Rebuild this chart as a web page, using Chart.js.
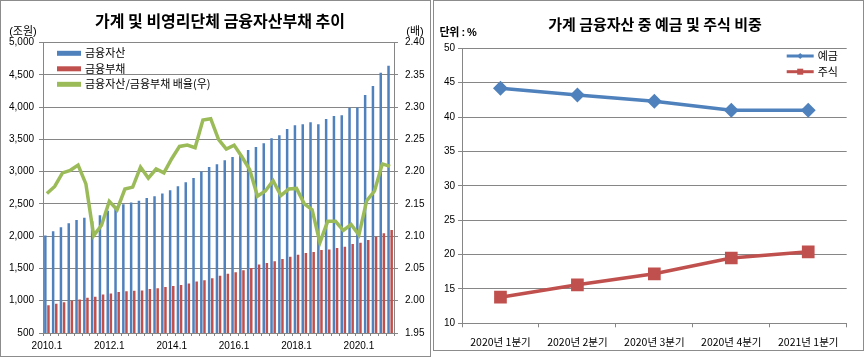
<!DOCTYPE html>
<html>
<head>
<meta charset="utf-8">
<script src="https://cdn.jsdelivr.net/npm/chart.js@4.4.0/dist/chart.umd.min.js"></script>
<style>
  body { margin: 0; background: #fff; width: 865px; height: 358px; position: relative; overflow: hidden;
         font-family: "Liberation Sans", "Noto Sans CJK KR", sans-serif; color: #000; }
  .panel { position: absolute; border: 1px solid #8c8c8c; box-sizing: border-box; }
  .panel canvas { position: absolute; left: 0; top: 0; }
  .txt { position: absolute; white-space: nowrap; transform: translate(-50%, -50%); }
  .title { font-family: "Noto Sans CJK KR", sans-serif; font-weight: bold; }
</style>
</head>
<body>
<div class="panel" style="left:0;top:0;width:431px;height:357px;">
  <canvas id="chart1" width="429" height="355"></canvas>
</div>
<div class="panel" style="left:433px;top:0;width:431px;height:351px;">
  <canvas id="chart2" width="429" height="349"></canvas>
</div>

<div class="txt title" style="left:220px;top:20px;font-size:16px;">가계 및 비영리단체 금융자산부채 추이</div>
<div class="txt" style="left:23px;top:30px;font-size:11px;">(조원)</div>
<div class="txt" style="left:415px;top:30px;font-size:11px;">(배)</div>

<div class="txt title" style="left:655px;top:23px;font-size:15px;">가계 금융자산 중 예금 및 주식 비중</div>
<div class="txt" style="left:458px;top:31px;font-size:11px;font-weight:bold;letter-spacing:-0.5px;">단위 : %</div>

<script>
// 왼쪽 차트 데이터 (분기별, 조원 / 배)
const quarters = ['2010.1', '2010.2', '2010.3', '2010.4', '2011.1', '2011.2', '2011.3', '2011.4',
  '2012.1', '2012.2', '2012.3', '2012.4', '2013.1', '2013.2', '2013.3', '2013.4',
  '2014.1', '2014.2', '2014.3', '2014.4', '2015.1', '2015.2', '2015.3', '2015.4',
  '2016.1', '2016.2', '2016.3', '2016.4', '2017.1', '2017.2', '2017.3', '2017.4',
  '2018.1', '2018.2', '2018.3', '2018.4', '2019.1', '2019.2', '2019.3', '2019.4',
  '2020.1', '2020.2', '2020.3', '2020.4', '2021.1'];
const assets = [2010, 2075, 2140, 2200, 2250, 2285, 2230, 2325,
  2395, 2460, 2495, 2520, 2550, 2590, 2620, 2660,
  2710, 2775, 2835, 2900, 3000, 3070, 3115, 3175,
  3225, 3265, 3335, 3380, 3440, 3515, 3565, 3660,
  3720, 3735, 3765, 3735, 3815, 3860, 3875, 3990,
  3995, 4185, 4325, 4530, 4640];
const debts = [930, 955, 975, 1000, 1020, 1045, 1060, 1095,
  1110, 1135, 1145, 1155, 1160, 1180, 1195, 1212,
  1228, 1245, 1268, 1298, 1318, 1350, 1385, 1418,
  1442, 1472, 1505, 1560, 1584, 1610, 1645, 1682,
  1711, 1738, 1756, 1785, 1792, 1815, 1837, 1880,
  1898, 1940, 1992, 2045, 2095];
const ratio = [2.166, 2.177, 2.198, 2.202, 2.210, 2.181, 2.101, 2.117,
  2.154, 2.141, 2.173, 2.176, 2.207, 2.190, 2.204, 2.198,
  2.220, 2.239, 2.241, 2.237, 2.280, 2.282, 2.250, 2.235,
  2.241, 2.223, 2.203, 2.162, 2.170, 2.186, 2.163, 2.173,
  2.174, 2.150, 2.141, 2.090, 2.123, 2.123, 2.109, 2.118,
  2.102, 2.155, 2.170, 2.212, 2.208];
const leftAxis = [500, 5000, 500];     // min, max, step
const rightAxis = [1.95, 2.40, 0.05];

// 오른쪽 차트 데이터 (%)
const periods = ['2020년 1분기', '2020년 2분기', '2020년 3분기', '2020년 4분기', '2021년 1분기'];
const deposits = [44.2, 43.2, 42.3, 41.0, 41.0];
const stocks = [13.8, 15.6, 17.2, 19.5, 20.4];
const pctAxis = [10, 50, 5];

const GRID = '#868686';
Chart.defaults.font.family = '"Liberation Sans", "Noto Sans CJK KR", sans-serif';
Chart.defaults.font.size = 10;
Chart.defaults.color = '#000';

// 범례를 플롯 안에 그리기
const insideLegend = {
  id: 'insideLegend',
  afterDraw(chart, args, o) {
    const ctx = chart.ctx;
    ctx.save();
    ctx.font = '11px "Noto Sans CJK KR", sans-serif';
    ctx.textBaseline = 'middle';
    chart.data.datasets.forEach((ds, i) => {
      const y = o.y + i * o.gap;
      const col = ds.borderColor || ds.backgroundColor;
      ctx.strokeStyle = col;
      ctx.lineWidth = o.lineWidth;
      ctx.beginPath();
      ctx.moveTo(o.x, y);
      ctx.lineTo(o.x + o.w, y);
      ctx.stroke();
      const mx = o.x + o.w / 2;
      ctx.fillStyle = col;
      if (ds.pointStyle === 'rectRot') {
        ctx.beginPath();
        ctx.moveTo(mx - 3, y); ctx.lineTo(mx, y - 3); ctx.lineTo(mx + 3, y); ctx.lineTo(mx, y + 3);
        ctx.closePath(); ctx.fill();
      } else if (ds.pointStyle === 'rect') {
        ctx.fillRect(mx - 3, y - 3, 6, 6);
      }
      ctx.fillStyle = '#000';
      ctx.fillText(ds.label, o.x + o.w + 4, y);
    });
    ctx.restore();
  }
};

new Chart(document.getElementById('chart1'), {
  type: 'bar',
  data: {
    labels: quarters,
    datasets: [
      { label: '금융자산', data: assets, backgroundColor: '#4F81BD', order: 1,
        categoryPercentage: 0.8, barPercentage: 0.8 },
      { label: '금융부채', data: debts, backgroundColor: '#C0504D', order: 1,
        categoryPercentage: 0.8, barPercentage: 0.8 },
      { type: 'line', label: '금융자산/금융부채 배율(우)', data: ratio, yAxisID: 'y1', order: 0,
        borderColor: '#9BBB59', borderWidth: 3.5, pointRadius: 0, tension: 0 }
    ]
  },
  options: {
    responsive: false,
    animation: false,
    events: [],
    layout: { padding: { top: 41.5, left: 0, right: 0, bottom: 0 } },
    plugins: {
      legend: { display: false },
      tooltip: { enabled: false },
      insideLegend: { x: 56, y: 52.3, gap: 15.5, w: 24, lineWidth: 5 }
    },
    scales: {
      x: {
        offset: true,
        grid: { drawOnChartArea: false, tickLength: 3, color: GRID },
        border: { color: GRID },
        ticks: { autoSkip: false, maxRotation: 0, padding: 4,
          callback: (v, i) => i % 8 === 0 ? quarters[i] : '' },
        afterFit: s => { s.height = 23; }
      },
      y: {
        min: leftAxis[0], max: leftAxis[1],
        ticks: { stepSize: leftAxis[2], padding: 5, callback: v => v.toLocaleString('en-US') },
        grid: { color: GRID, tickLength: 4 },
        border: { color: GRID },
        afterFit: s => { s.width = 42; }
      },
      y1: {
        position: 'right',
        min: rightAxis[0], max: rightAxis[1],
        ticks: { stepSize: rightAxis[2], padding: 7, callback: v => v.toFixed(2) },
        grid: { drawOnChartArea: false, tickLength: 4, color: GRID },
        border: { color: GRID },
        afterFit: s => { s.width = 36; }
      }
    }
  },
  plugins: [insideLegend]
});

new Chart(document.getElementById('chart2'), {
  type: 'line',
  data: {
    labels: periods,
    datasets: [
      { label: '예금', data: deposits, borderColor: '#4F81BD', backgroundColor: '#4F81BD',
        borderWidth: 3.5, pointStyle: 'rectRot', pointRadius: 5, tension: 0 },
      { label: '주식', data: stocks, borderColor: '#C0504D', backgroundColor: '#C0504D',
        borderWidth: 3.5, pointStyle: 'rect', pointRadius: 6.5, tension: 0 }
    ]
  },
  options: {
    responsive: false,
    animation: false,
    events: [],
    layout: { padding: { top: 47.3, left: 0, right: 16.3, bottom: 0 } },
    plugins: {
      legend: { display: false },
      tooltip: { enabled: false },
      insideLegend: { x: 352.7, y: 55, gap: 15.7, w: 27, lineWidth: 3 }
    },
    scales: {
      x: {
        offset: true,
        grid: { offset: true, drawOnChartArea: false, tickLength: 4, color: GRID },
        border: { color: GRID },
        ticks: { padding: 8, font: { size: 10.5, family: '"Noto Sans CJK KR", sans-serif' } },
        afterFit: s => { s.height = 26.7; }
      },
      y: {
        min: pctAxis[0], max: pctAxis[1],
        ticks: { stepSize: pctAxis[2], padding: 3 },
        grid: { color: GRID, tickLength: 4 },
        border: { color: GRID },
        afterFit: s => { s.width = 28; }
      }
    }
  },
  plugins: [insideLegend]
});
</script>
</body>
</html>
